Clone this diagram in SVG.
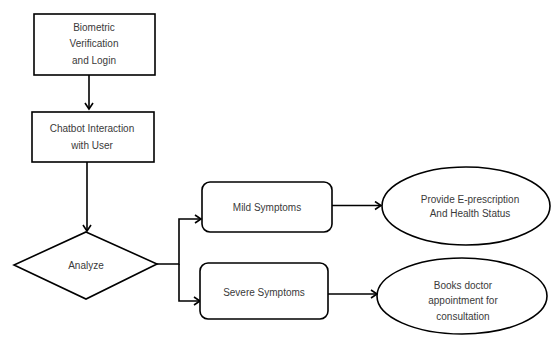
<svg xmlns="http://www.w3.org/2000/svg" width="552" height="338" viewBox="0 0 552 338">
<style>
.s{fill:#fff;stroke:#000;stroke-width:1.6}
.t{font-family:"Liberation Sans",Arial,sans-serif;font-size:10px;fill:#3a3a3a;text-anchor:middle}
.c{fill:none;stroke:#000;stroke-width:1.6}
</style>
<defs>
<marker id="a" markerWidth="10" markerHeight="10" refX="8" refY="5" orient="auto" markerUnits="userSpaceOnUse">
<path d="M2,1 L8,5 L2,9" fill="none" stroke="#000" stroke-width="1.6"/>
</marker>
</defs>
<rect width="552" height="338" fill="#fff"/>
<g id="connectors">
<path class="c" d="M89,75 V109" marker-end="url(#a)"/>
<path class="c" d="M87,162 V231" marker-end="url(#a)"/>
<path class="c" d="M157,264 H179 V219 H201" marker-end="url(#a)"/>
<path class="c" d="M179,264 V301 H200" marker-end="url(#a)"/>
<path class="c" d="M332,205.5 H381" marker-end="url(#a)"/>
<path class="c" d="M328,294 H377" marker-end="url(#a)"/>
</g>
<g id="login">
<rect class="s" x="34" y="14" width="121" height="61"/>
<text class="t" x="94" y="31">Biometric</text>
<text class="t" x="94" y="47">Verification</text>
<text class="t" x="94" y="64">and Login</text>
</g>
<g id="chatbot">
<rect class="s" x="32" y="112" width="122" height="50"/>
<text class="t" x="92" y="132">Chatbot Interaction</text>
<text class="t" x="92" y="149">with User</text>
</g>
<g id="analyze">
<polygon class="s" points="86,232 157,264 86,299 14,265"/>
<text class="t" x="86" y="269">Analyze</text>
</g>
<g id="mild">
<rect class="s" x="202" y="182" width="130" height="50" rx="8"/>
<text class="t" x="267" y="211">Mild Symptoms</text>
</g>
<g id="severe">
<rect class="s" x="200" y="263" width="128" height="56" rx="8"/>
<text class="t" x="264" y="296">Severe Symptoms</text>
</g>
<g id="prescription">
<ellipse class="s" cx="466" cy="206" rx="84" ry="39"/>
<text class="t" x="470" y="203">Provide E-prescription</text>
<text class="t" x="470" y="217">And Health Status</text>
</g>
<g id="appointment">
<ellipse class="s" cx="462" cy="296" rx="85" ry="38"/>
<text class="t" x="463" y="289">Books doctor</text>
<text class="t" x="463" y="304">appointment for</text>
<text class="t" x="463" y="320">consultation</text>
</g>
</svg>
